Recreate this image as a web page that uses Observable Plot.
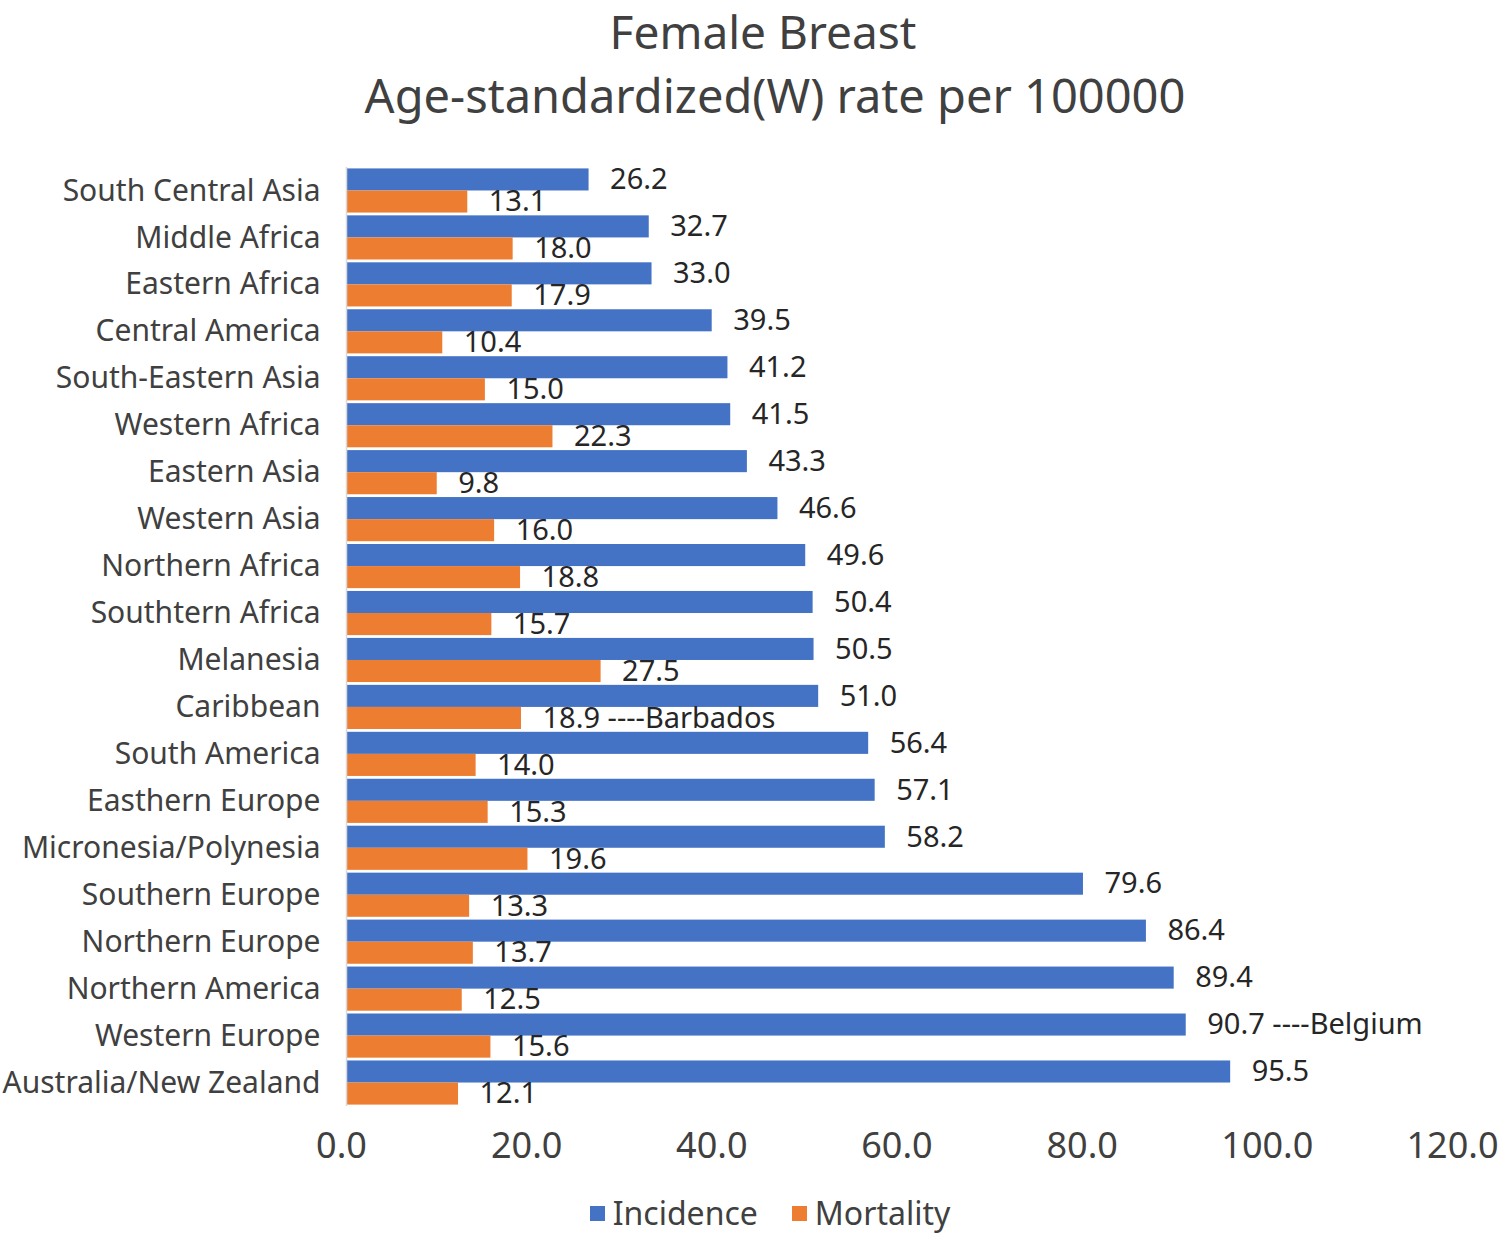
<!DOCTYPE html>
<html>
<head>
<meta charset="utf-8">
<script src="https://cdn.jsdelivr.net/npm/d3@7"></script>
<script src="https://cdn.jsdelivr.net/npm/@observablehq/plot@0.6"></script>
<style>
  body { margin: 0; background: #fff; font-family: "Noto Sans", sans-serif; }
  #wrap { position: relative; width: 1500px; height: 1235px; }
  .title { position: absolute; width: 1500px; text-align: center; color: #404040; white-space: nowrap; }
  #t1 { top: 0px; left: 13px; font-size: 46px; line-height: 62px; }
  #t2 { top: 63px; left: 25px; font-size: 47px; line-height: 64px; }
  #chart { position: absolute; left: 0; top: 130px; }
  #legend { position: absolute; top: 1196px; left: 20px; width: 1500px; display: flex; justify-content: center; align-items: center; font-size: 32px; color: #404040; line-height: 34px; }
  .sw { display: inline-block; width: 15px; height: 15px; margin-right: 8px; }
  .item { display: flex; align-items: center; margin: 0 17px; }
</style>
</head>
<body>
<div id="wrap">
  <div class="title" id="t1">Female Breast</div>
  <div class="title" id="t2">Age-standardized(W) rate per 100000</div>
  <div id="chart"></div>
  <div id="legend"></div>
</div>
<script>
const regions = [
  "South Central Asia", "Middle Africa", "Eastern Africa", "Central America",
  "South-Eastern Asia", "Western Africa", "Eastern Asia", "Western Asia",
  "Northern Africa", "Southtern Africa", "Melanesia", "Caribbean",
  "South America", "Easthern Europe", "Micronesia/Polynesia", "Southern Europe",
  "Northern Europe", "Northern America", "Western Europe", "Australia/New Zealand"
];
const incidence = [26.2, 32.7, 33.0, 39.5, 41.2, 41.5, 43.3, 46.6, 49.6, 50.4,
                   50.5, 51.0, 56.4, 57.1, 58.2, 79.6, 86.4, 89.4, 90.7, 95.5];
const mortality = [13.1, 18.0, 17.9, 10.4, 15.0, 22.3, 9.8, 16.0, 18.8, 15.7,
                   27.5, 18.9, 14.0, 15.3, 19.6, 13.3, 13.7, 12.5, 15.6, 12.1];
const incidenceNotes = ["", "", "", "", "", "", "", "", "", "",
                        "", "", "", "", "", "", "", "", " ----Belgium", ""];
const mortalityNotes = ["", "", "", "", "", "", "", "", "", "",
                        "", " ----Barbados", "", "", "", "", "", "", "", ""];
const seriesNames = ["Incidence", "Mortality"];
const seriesColors = ["#4472C4", "#ED7D31"];
const xTicks = [0, 20, 40, 60, 80, 100, 120];

const rows = regions.map((r, i) => ({
  region: r,
  incidence: incidence[i],
  mortality: mortality[i],
  incLabel: incidence[i].toFixed(1) + incidenceNotes[i],
  morLabel: mortality[i].toFixed(1) + mortalityNotes[i]
}));

const W = 1500, H = 1050, mT = 37, mB = 74, mL = 346, mR = 43;
const padInner = 0.06, padOuter = 0.03;
const step = (H - mT - mB) / (regions.length - padInner + 2 * padOuter);
const bw = step * (1 - padInner);
const half = bw / 2;
const q = bw / 4;

const chart = Plot.plot({
  width: W, height: H,
  marginTop: mT, marginBottom: mB, marginLeft: mL, marginRight: mR,
  style: { fontFamily: "Noto Sans, sans-serif", color: "#404040", background: "white" },
  x: { domain: [0, 120] },
  y: { domain: regions, paddingInner: padInner, paddingOuter: padOuter, round: false },
  marks: [
    Plot.barX(rows, { x: "incidence", y: "region", fill: seriesColors[0], insetBottom: half }),
    Plot.barX(rows, { x: "mortality", y: "region", fill: seriesColors[1], insetTop: half }),
    Plot.ruleX([0], { stroke: "#d9d9d9", strokeWidth: 1.5 }),
    Plot.text(rows, { x: "incidence", y: "region", text: "incLabel", dx: 21, dy: -q, textAnchor: "start", fontSize: 29, fill: "#262626", letterSpacing: 0.6 }),
    Plot.text(rows, { x: "mortality", y: "region", text: "morLabel", dx: 21, dy: q, textAnchor: "start", fontSize: 29, fill: "#262626", letterSpacing: 0.6 }),
    Plot.axisY({ tickSize: 0, tickPadding: 26, fontSize: 30, label: null }),
    Plot.axisX({ ticks: xTicks, tickFormat: d => d.toFixed(1), tickSize: 0, tickPadding: 26, fontSize: 36, dx: -5, label: null })
  ]
});
document.getElementById("chart").appendChild(chart);

const legend = document.getElementById("legend");
seriesNames.forEach((n, i) => {
  const it = document.createElement("div");
  it.className = "item";
  const sw = document.createElement("span");
  sw.className = "sw";
  sw.style.background = seriesColors[i];
  it.appendChild(sw);
  it.appendChild(document.createTextNode(n));
  legend.appendChild(it);
});
</script>
</body>
</html>
